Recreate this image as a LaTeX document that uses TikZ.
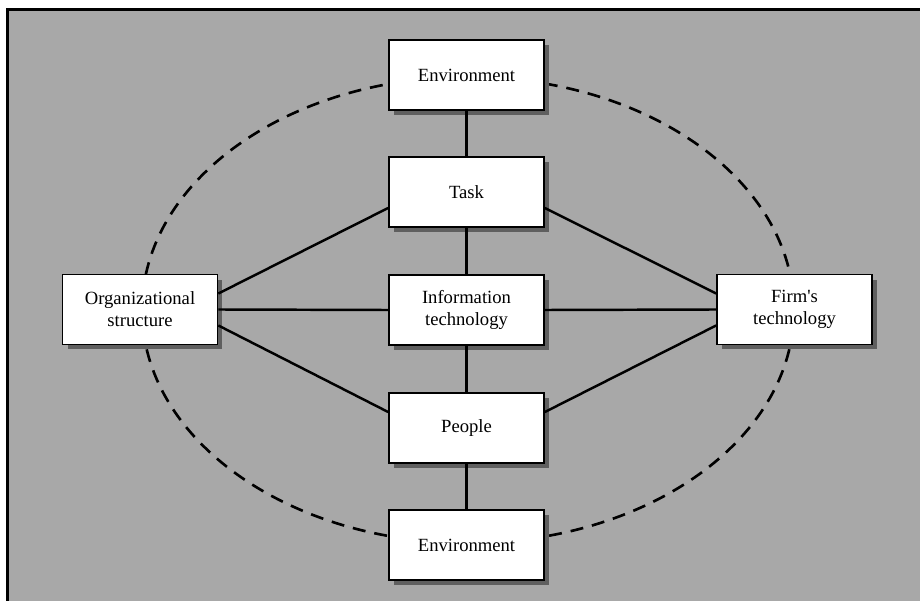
\documentclass[tikz,border=0pt]{standalone}
\usepackage{fontspec}
\setmainfont{Liberation Serif}
\usetikzlibrary{shadows}
\definecolor{bggray}{RGB}{168,168,168}
\definecolor{shgray}{RGB}{95,95,95}
\begin{document}
\begin{tikzpicture}[x=0.02cm,y=-0.02cm,
  box/.style={draw=black, line width=1pt, fill=white, minimum width=3.1cm,
    minimum height=1.4cm, align=center, inner sep=0pt,
    font=\fontsize{10.6}{12.5}\selectfont,
    drop shadow={shadow xshift=0.1cm, shadow yshift=-0.1cm, fill=shgray, opacity=1}},
  conn/.style={line width=1.4pt},
  ring/.style={line width=1.5pt, dash pattern=on 0.26cm off 0.18cm}]
\useasboundingbox (0,0) rectangle (920,601);
\fill[white] (0,0) rectangle (920,601);
\fill[bggray] (7,9) rectangle (920,601);
\draw[line width=1.2pt] (7.5,601) -- (7.5,9.5) -- (920,9.5);
\draw[ring] (468,310) ellipse [x radius=6.52cm, y radius=4.66cm];
\node[box] (envt) at (466.5,75) {Environment};
\node[box] (task) at (466.5,192) {Task};
\node[box] (it) at (466.5,310) {Information\\technology};
\node[box] (people) at (466.5,428) {People};
\node[box] (envb) at (466.5,545) {Environment};
\node[box] (org) at (140,309.5) {Organizational\\structure};
\node[box] (firm) at (794.5,309.5) {Firm\textquotesingle s\\technology};
\draw[conn] (envt.south) -- (task.north);
\draw[conn] (task.south) -- (it.north);
\draw[conn] (it.south) -- (people.north);
\draw[conn] (people.south) -- (envb.north);
\draw[conn] (org.east) -- (it.west);
\draw[conn] (it.east) -- (firm.west);
\draw[conn] ([yshift=0.32cm]org.east) -- ([yshift=-0.32cm]task.west);
\draw[conn] ([yshift=-0.32cm]org.east) -- ([yshift=0.32cm]people.west);
\draw[conn] ([yshift=0.32cm]firm.west) -- ([yshift=-0.32cm]task.east);
\draw[conn] ([yshift=-0.32cm]firm.west) -- ([yshift=0.32cm]people.east);
\end{tikzpicture}
\end{document}
